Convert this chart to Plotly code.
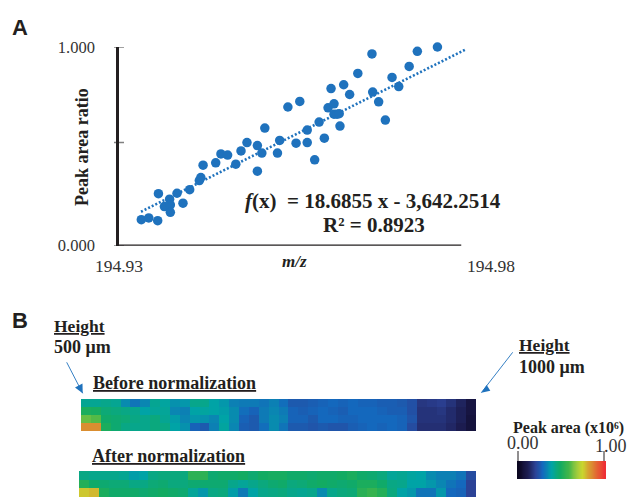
import plotly.graph_objects as go

W, H = 640, 497

# ---------- data ----------
mz = [194.9330,194.9340,194.9352,194.9353,194.9361,194.9368,194.9369,194.9369,194.9378,194.9386,
      194.9395,194.9408,194.9410,194.9413,194.9430,194.9437,194.9446,194.9457,194.9464,194.9472,
      194.9486,194.9486,194.9492,194.9496,194.9513,194.9516,194.9527,194.9538,194.9543,194.9553,
      194.9553,194.9563,194.9569,194.9576,194.9581,194.9585,194.9589,194.9589,194.9593,194.9596,
      194.9597,194.9602,194.9610,194.9621,194.9640,194.9641,194.9649,194.9658,194.9667,194.9676,
      194.9690,194.9701,194.9728]
ratio = [.131,.140,.126,.262,.197,.234,.205,.168,.264,.214,
         .282,.328,.343,.405,.417,.462,.456,.410,.477,.519,
         .504,.375,.466,.592,.466,.530,.698,.516,.726,.519,
         .582,.432,.622,.541,.694,.791,.714,.662,.662,.664,
         .602,.810,.761,.867,.965,.773,.724,.632,.847,.801,
         .902,.978,1.0]
trend_x = [194.93296, 194.97651]
trend_y = [0.171, 0.986]
x_ticks = [194.93, 194.98]
x_labels = ["194.93", "194.98"]
y_ticks = [0, 1]
y_labels = ["0.000", "1.000"]
y_tick_marks = [0, 0.52, 1]
x_axis_end = 194.976

before = [
 [.41,.41,.42,.41,.34,.30,.33,.41,.39,.35,.36,.42,.42,.38,.36,.32,.31,.31,.30,.32,.29,.25,.25,.26,.27,.28,.27,.28,.27,.27,.26,.26,.25,.23,.17,.18,.19,.16,.12,.07],
 [.50,.49,.45,.44,.43,.42,.38,.40,.40,.33,.32,.38,.39,.38,.37,.34,.29,.27,.31,.33,.31,.27,.26,.27,.28,.27,.26,.28,.28,.28,.27,.26,.26,.23,.16,.16,.17,.14,.11,.07],
 [.62,.60,.47,.46,.45,.43,.42,.44,.41,.37,.33,.36,.35,.33,.38,.34,.27,.25,.31,.34,.32,.27,.27,.25,.28,.28,.27,.27,.28,.28,.28,.28,.27,.24,.16,.16,.16,.14,.11,.06],
 [.84,.84,.50,.46,.43,.42,.42,.44,.43,.38,.35,.27,.25,.32,.39,.33,.26,.25,.29,.34,.30,.25,.25,.24,.25,.24,.24,.26,.27,.28,.27,.28,.27,.22,.15,.15,.15,.13,.10,.06],
]
after = [
 [.43,.42,.42,.42,.41,.37,.38,.43,.44,.44,.44,.54,.54,.46,.47,.47,.48,.46,.48,.49,.49,.47,.47,.46,.47,.47,.48,.50,.47,.46,.44,.40,.41,.39,.38,.34,.32,.32,.30,.22],
 [.52,.47,.46,.45,.45,.43,.43,.45,.46,.44,.44,.46,.46,.46,.46,.42,.40,.42,.44,.46,.47,.44,.45,.47,.48,.47,.46,.47,.50,.50,.47,.43,.42,.38,.38,.36,.33,.30,.28,.20],
 [.76,.78,.50,.47,.47,.47,.46,.47,.48,.47,.46,.40,.36,.43,.44,.37,.31,.38,.42,.43,.44,.42,.41,.42,.34,.42,.44,.45,.53,.56,.52,.44,.38,.36,.30,.30,.36,.28,.27,.20],
]
scale_levels = [0.00,0.03,0.06,0.09,0.12,0.16,0.20,0.24,0.28,0.32,0.36,0.40,0.44,0.48,0.52,0.56,0.60,0.64,0.68,0.72,0.76,0.80,0.84,0.88,0.92,0.96,1.00]
color_stops = [
 [0.00,"#0b0620"],[0.10,"#1c1c50"],[0.20,"#2b4296"],[0.28,"#1468bd"],[0.38,"#00a3a6"],
 [0.48,"#12ab62"],[0.58,"#3fb54a"],[0.68,"#a3cc3c"],[0.74,"#c9d62e"],[0.82,"#d89a30"],[1.00,"#ee2f34"],
]

# ---------- helpers ----------
SERIF = "Liberation Serif"
INK = "#231f20"
BLUE = "#1f72bd"
def px(v): return v / W
def py(v): return 1 - v / H

def label(text, x, y, size=15, bold=True, xanchor="center", font=SERIF, color=INK, angle=0):
    t = f"<b>{text}</b>" if bold else text
    return dict(text=t, x=px(x), y=py(y), xref="paper", yref="paper", showarrow=False,
                xanchor=xanchor, yanchor="middle", textangle=angle,
                font=dict(family=font, size=size, color=color))

def arrow_shapes(tail, tip, wing1, wing2):
    line = dict(type="line", xref="paper", yref="paper", x0=px(tail[0]), y0=py(tail[1]),
                x1=px(tip[0]), y1=py(tip[1]), line=dict(color=BLUE, width=0.9))
    pts = [tip, wing1, wing2]
    path = "M " + " L ".join(f"{px(a):.5f},{py(b):.5f}" for a, b in pts) + " Z"
    head = dict(type="path", xref="paper", yref="paper", path=path, fillcolor=BLUE, line=dict(width=0))
    return [line, head]

fig = go.Figure()
fig.add_trace(go.Scatter(x=trend_x, y=trend_y, mode="lines", xaxis="x", yaxis="y",
                         line=dict(color=BLUE, width=2.6, dash="2px,2px"), showlegend=False))
fig.add_trace(go.Scatter(x=mz, y=ratio, mode="markers", xaxis="x", yaxis="y", cliponaxis=False,
                         marker=dict(color=BLUE, size=9.5), showlegend=False))
fig.add_trace(go.Heatmap(z=before, coloraxis="coloraxis", xaxis="x2", yaxis="y2"))
fig.add_trace(go.Heatmap(z=after, coloraxis="coloraxis", xaxis="x3", yaxis="y3"))
fig.add_trace(go.Heatmap(z=[scale_levels], x=scale_levels, coloraxis="coloraxis", xaxis="x4", yaxis="y4",
                         zsmooth="best"))

hidden = dict(visible=False, fixedrange=True)
fig.update_layout(
    width=W, height=H, margin=dict(l=0, r=0, t=0, b=0, autoexpand=False),
    paper_bgcolor="white", plot_bgcolor="white", showlegend=False,
    xaxis=dict(domain=[px(119), px(491)], range=[194.93, 194.98], tickvals=x_ticks, ticktext=x_labels,
               showgrid=False, zeroline=False, showline=False, ticks="",
               ticklabelstandoff=8, tickfont=dict(family=SERIF, size=17.5, color="#333333")),
    yaxis=dict(domain=[py(245.7), py(47)], range=[0, 1], tickvals=y_ticks, ticktext=y_labels,
               showgrid=False, zeroline=False, showline=True, linecolor=INK, linewidth=2.5,
               ticks="", ticklabelstandoff=18, tickfont=dict(family=SERIF, size=16.5, color="#333333")),
    xaxis2=dict(domain=[px(81), px(476)], anchor="y2", **hidden),
    yaxis2=dict(domain=[py(431), py(399)], anchor="x2", autorange="reversed", **hidden),
    xaxis3=dict(domain=[px(79), px(476)], anchor="y3", **hidden),
    yaxis3=dict(domain=[py(497), py(471)], anchor="x3", autorange="reversed", **hidden),
    xaxis4=dict(domain=[px(517), px(606)], anchor="y4", **hidden),
    yaxis4=dict(domain=[py(479), py(461)], anchor="x4", **hidden),
    coloraxis=dict(cmin=0, cmax=1, colorscale=color_stops, showscale=False),
    shapes=[
        dict(type="line", xref="x", yref="y", x0=x_ticks[0], x1=x_axis_end, y0=0, y1=0,
             line=dict(color=INK, width=2.5)),
        dict(type="line", xref="paper", yref="paper", x0=px(518), x1=px(518), y0=py(451), y1=py(461),
             line=dict(color=INK, width=1)),
        dict(type="line", xref="paper", yref="paper", x0=px(604), x1=px(604), y0=py(451), y1=py(461),
             line=dict(color=INK, width=1)),
    ] + [dict(type="line", xref="paper", yref="y", x0=px(114), x1=px(124), y0=v, y1=v,
              line=dict(color="#808080", width=1.5), layer="below") for v in y_tick_marks]
      + arrow_shapes((66.7, 362.3), (82.7, 393.3), (75, 387.5), (82.5, 383.5))
      + arrow_shapes((512.7, 352.3), (481.3, 392.7), (486.7, 385), (490.3, 390.7)),
    annotations=[
        label("A", 20, 27, size=22, font="Liberation Sans"),
        label("B", 20, 320, size=22, font="Liberation Sans"),
        label("Peak area ratio", 82, 147, size=18, angle=-90),
        label("<i>m/z</i>", 294, 261, size=17),
        label("<i>f</i>(x)  = 18.6855 x - 3,642.2514", 373, 201, size=21),
        label("R² = 0.8923", 374, 225, size=21),
        label("<u>Height</u>", 52, 326, size=17.5, xanchor="left"),
        label("500 μm", 52, 347, size=18, xanchor="left"),
        label("<u>Before normalization</u>", 91, 383, size=18, xanchor="left"),
        label("<u>After normalization</u>", 90, 456, size=18, xanchor="left"),
        label("<u>Height</u>", 517, 345, size=17.5, xanchor="left"),
        label("1000 μm", 517, 367, size=18, xanchor="left"),
        label("Peak area (x10⁶)", 511, 428, size=16, xanchor="left"),
        label("0.00", 523, 443, size=18, bold=False, color="#333333"),
        label("1.00", 610.5, 445.5, size=18, bold=False, color="#333333"),
    ],
)
fig.write_html("out.html", config=dict(displayModeBar=False),
               post_script="document.body.style.margin='0';")
